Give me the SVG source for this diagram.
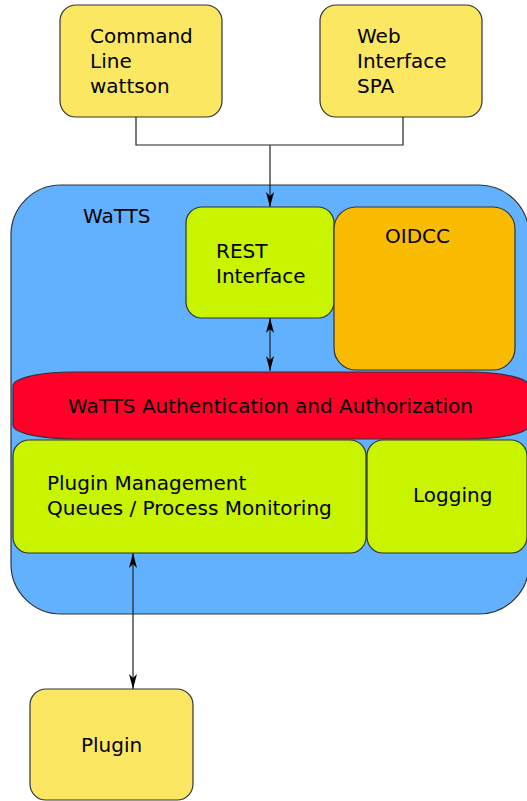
<svg xmlns="http://www.w3.org/2000/svg" width="527" height="801" viewBox="0 0 527 801">
<style>
.n{stroke:#333;stroke-width:1.2}
.y{fill:#FCE762}
.g{fill:#C8F400}
text{font-family:"DejaVu Sans",sans-serif;font-size:20px;fill:#000}
.c{fill:none;stroke:#222;stroke-width:1.2}
</style>
<defs>
<marker id="ah" viewBox="0 0 15 8" refX="15" refY="4" markerWidth="15" markerHeight="8" markerUnits="userSpaceOnUse" orient="auto-start-reverse">
<path d="M0,0 L15,4 L0,8 L4,4 Z" fill="#000"/>
</marker>
</defs>
<g id="cmd"><rect class="n y" x="60" y="5" width="162" height="112" rx="16"/>
<text x="90" y="43">Command</text><text x="90" y="68">Line</text><text x="90" y="93">wattson</text></g>
<g id="web"><rect class="n y" x="320" y="5" width="162" height="112" rx="16"/>
<text x="357" y="43">Web</text><text x="357" y="68">Interface</text><text x="357" y="93">SPA</text></g>
<g id="watts"><rect class="n" fill="#62B1FF" x="11" y="185" width="518" height="429" rx="50"/>
<text x="83" y="223">WaTTS</text></g>
<g id="rest"><rect class="n g" x="186" y="207" width="148" height="111" rx="16"/>
<text x="216" y="258">REST</text><text x="216" y="283">Interface</text></g>
<g id="oidcc"><rect class="n" fill="#F9BB00" x="334" y="207" width="181" height="163" rx="22"/>
<text x="385" y="243">OIDCC</text></g>
<g id="auth"><rect class="n" fill="#FF0028" x="13" y="372" width="516" height="67" rx="60" ry="14"/>
<text x="68" y="413">WaTTS Authentication and Authorization</text></g>
<g id="plugmgmt"><rect class="n g" x="13" y="440" width="353" height="113" rx="16"/>
<text x="47" y="490">Plugin Management</text><text x="47" y="515">Queues / Process Monitoring</text></g>
<g id="logging"><rect class="n g" x="367" y="440" width="160" height="113" rx="16"/>
<text x="413" y="502">Logging</text></g>
<g id="plugin"><rect class="n y" x="30" y="689" width="163" height="111" rx="16"/>
<text x="81" y="752">Plugin</text></g>
<g id="connectors">
<path class="c" d="M136,117 V145 H403 V117"/>
<path class="c" d="M270,145 V207" marker-end="url(#ah)"/>
<path class="c" d="M270,318 V371" marker-start="url(#ah)" marker-end="url(#ah)"/>
<path class="c" d="M133,553 V689" marker-start="url(#ah)" marker-end="url(#ah)"/>
</g>
</svg>
